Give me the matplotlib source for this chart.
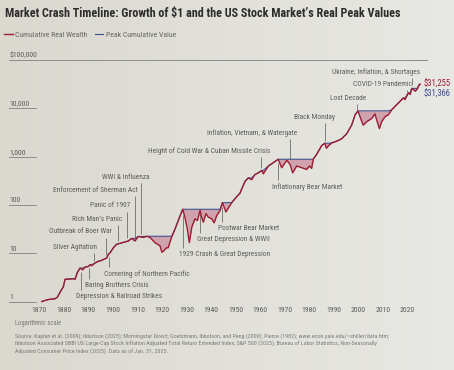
import numpy as np
import matplotlib
matplotlib.use('Agg')
import matplotlib.pyplot as plt
from matplotlib import font_manager
from matplotlib.colors import LinearSegmentedColormap

# Growth of $1 in real terms (log scale)
years = [1871.0, 1873.7, 1876.4, 1877.4, 1878.5, 1879.8, 1880.5, 1883.9, 1884.6, 1885.5,
         1886.6, 1887.7, 1888.6, 1890.0, 1890.7, 1891.4, 1892.7, 1894.0, 1895.4, 1897.5,
         1898.1, 1898.8, 1900.2, 1901.5, 1902.9, 1904.9, 1906.3, 1907.6, 1909.0, 1910.3,
         1912.4, 1913.8, 1915.1, 1917.1, 1919.2, 1919.9, 1920.5, 1921.9, 1922.5, 1923.9,
         1925.3, 1926.6, 1928.4, 1929.3, 1930.3, 1931.1, 1932.1, 1933.4, 1934.4, 1935.5,
         1936.1, 1936.8, 1937.9, 1938.8, 1940.2, 1941.2, 1942.3, 1943.6, 1944.6, 1946.0,
         1948.4, 1950.4, 1951.7, 1953.8, 1955.1, 1956.5, 1957.8, 1959.2, 1960.6, 1961.2,
         1963.3, 1965.3, 1967.3, 1968.7, 1970.8, 1972.1, 1973.2, 1974.8, 1976.9, 1978.9,
         1980.0, 1980.9, 1981.6, 1983.0, 1985.0, 1986.3, 1986.9, 1987.9, 1989.1, 1991.1,
         1993.1, 1995.2, 1997.2, 1998.6, 1999.8, 2000.6, 2001.9, 2003.3, 2005.4, 2006.7,
         2007.4, 2008.5, 2009.4, 2010.8, 2012.1, 2013.5, 2015.5, 2016.9, 2018.2, 2018.9,
         2020.3, 2021.0, 2021.7, 2023.1, 2023.9, 2024.8, 2025.08]
wealth = [1.00, 1.10, 1.14, 1.23, 1.57, 2.01, 2.88, 2.96, 2.88, 3.97,
          4.91, 4.52, 5.16, 5.31, 5.77, 5.50, 6.27, 6.77, 7.11, 7.99,
          9.39, 10.2, 13.0, 15.3, 16.0, 17.1, 17.9, 20.2, 17.9, 22.2,
          21.2, 22.4, 21.2, 16.6, 14.1, 10.5, 11.0, 13.0, 13.0, 21.5,
          31.7, 47.5, 81.1, 56.0, 31.7, 16.6, 34.4, 51.6, 47.5, 77.3,
          56.0, 43.9, 65.8, 56.0, 51.6, 42.5, 60.6, 76.0, 111, 71.5,
          112, 148, 174, 308, 361, 333, 424, 461, 516, 439,
          639, 750, 881, 588, 839, 691, 461, 639, 588, 542,
          639, 569, 890, 1125, 1692, 1890, 1480, 1700, 1920, 2085,
          2334, 2979, 4478, 7291, 8850, 6708, 4478, 5258, 6178, 7654,
          5717, 3795, 5258, 6708, 7291, 9297, 11860, 13925, 16350, 15130,
          20850, 19270, 25830, 22660, 24980, 31366, 31255]

y_ticks = [1, 10, 100, 1000, 10000, 100000]
y_tick_labels = ['1', '10', '100', '1,000', '10,000', '$100,000']
x_ticks = list(range(1870, 2021, 10))

# (label, year the marker points at, side of the curve)
events = [
    ('Depression & Railroad Strikes', 1886.9, 'below'),
    ('Baring Brothers Crisis', 1890.4, 'below'),
    ('Silver Agitation', 1892.3, 'above'),
    ('Outbreak of Boer War', 1897.2, 'above'),
    ('Cornering of Northern Pacific', 1898.5, 'below'),
    ('Rich Man\u2019s Panic', 1902.2, 'above'),
    ('Panic of 1907', 1905.9, 'above'),
    ('Enforcement of Sherman Act', 1909.0, 'above'),
    ('WWI & Influenza', 1911.3, 'above'),
    ('1929 Crash & Great Depression', 1928.7, 'below'),
    ('Great Depression & WWII', 1935.5, 'below'),
    ('Postwar Bear Market', 1944.5, 'below'),
    ('Height of Cold War & Cuban Missile Crisis', 1960.3, 'above'),
    ('Inflationary Bear Market', 1967.1, 'below'),
    ('Inflation, Vietnam, & Watergate', 1972.1, 'above'),
    ('Black Monday', 1986.4, 'above'),
    ('Lost Decade', 1999.3, 'above'),
    ('COVID-19 Pandemic', 2019.9, 'above'),
    ('Ukraine, Inflation, & Shortages', 2021.7, 'above'),
]
# where each label sits: (year of the near edge, value at the text centre)
label_pos = [(1885.0, 1.257), (1888.6, 2.12), (1893.6, 13.3), (1899.5, 27.9),
             (1896.4, 3.71), (1903.6, 50), (1907.2, 96), (1909.9, 203),
             (1915.1, 373), (1927.0, 9.18), (1934.4, 18.8), (1942.9, 32.2),
             (1964.0, 1325), (1964.7, 238), (1975.1, 3036), (1990.4, 6515),
             (2003.3, 16100), (2021.9, 31840), (2025.0, 57270)]

RED = '#9c1c33'
BLUE = '#3f4f8e'
PINK = '#cfa2ad'
GREY = '#5c5c5c'

names = {f.name for f in font_manager.fontManager.ttflist}


def pick(cands, default='Liberation Sans'):
    for c in cands:
        if c in names:
            return c
    return default


font = pick(['Liberation Sans Narrow', 'Roboto Condensed', 'Open Sans Condensed',
             'Noto Sans Condensed'])
plt.rcParams['font.family'] = font

years = np.array(years)
wealth = np.array(wealth)
peak = np.maximum.accumulate(wealth)

fig = plt.figure(figsize=(4.54, 3.70), dpi=100)
fig.patch.set_facecolor('#e3e2dc')

# soft paper tone, a bit darker on the left like the photo
bg = fig.add_axes([0, 0, 1, 1], zorder=-10)
bg.imshow(np.linspace(0, 1, 256)[None, :], aspect='auto', extent=(0, 1, 0, 1),
          cmap=LinearSegmentedColormap.from_list('paper', ['#dad8cf', '#e8e8e4']))
bg.axis('off')

ax = fig.add_axes([0.01542, 0.17568, 0.92731, 0.66216])
ax.set_facecolor('none')
ax.set_yscale('log')
ax.set_xlim(1856.87, 2028.29)
ax.set_ylim(0.8465, 1e5)
for s in ax.spines.values():
    s.set_visible(False)

ax.fill_between(years, wealth, peak, color=PINK, lw=0, zorder=2)
hp, = ax.plot(years, peak, color=BLUE, lw=0.8, zorder=3)
hw, = ax.plot(years, wealth, color=RED, lw=1.0, zorder=4, solid_joinstyle='round')

# y labels sit on short stubs, top one on a full-width rule
ax.set_yticks([])
ax.minorticks_off()
for v, lab in zip(y_ticks, y_tick_labels):
    ax.axhline(v, xmin=0.005, xmax=1.0 if v == y_ticks[-1] else 0.068,
               color='#8c8c8c', lw=0.7, zorder=1)
    ax.annotate(lab, xy=(0.005, v), xycoords=('axes fraction', 'data'),
                xytext=(0.5, 1.2), textcoords='offset points',
                ha='left', va='bottom', fontsize=5.6, color=GREY)

ax.set_xticks(x_ticks)
ax.set_xticklabels([str(x) for x in x_ticks])
ax.tick_params(axis='x', length=0, pad=1.5, labelsize=5.6, labelcolor=GREY)

# event markers
dec_px = 370 * 0.66216 / np.log10(1e5 / 0.8465)
logw = np.log10(wealth)


def shift(v, px):
    return v * 10 ** (px / dec_px)


for (lab, yr, side), (tx, tv) in zip(events, label_pos):
    cv = 10 ** np.interp(yr, years, logw)
    if side == 'above':
        ax.vlines(yr, shift(cv, 3.0), shift(tv, -6.0), color='#6e6e6e', lw=0.6, zorder=1)
        ax.text(tx, tv, lab, ha='right', va='center', fontsize=5.3, color=GREY)
    else:
        ax.vlines(yr, shift(tv, 7.0), shift(cv, -3.0), color='#6e6e6e', lw=0.6, zorder=1)
        ax.text(tx, tv, lab, ha='left', va='center', fontsize=5.3, color=GREY)

ax.annotate('${:,.0f}'.format(wealth[-1]), xy=(years[-1], wealth[-1]),
            xytext=(2.4, 0), textcoords='offset points', ha='left', va='center',
            fontsize=6.2, color=RED, annotation_clip=False)
ax.annotate('${:,.0f}'.format(peak[-1]), xy=(years[-1], wealth[-1]),
            xytext=(2.4, -6.8), textcoords='offset points', ha='left', va='center',
            fontsize=6.2, color=BLUE, annotation_clip=False)

fig.text(5 / 454, 1 - 16.7 / 370,
         'Market Crash Timeline: Growth of $1 and the US Stock Market\u2019s Real Peak Values',
         ha='left', va='baseline', fontsize=8.7, fontweight='bold', color='#2d2d2d')
fig.legend([hw, hp], ['Cumulative Real Wealth', 'Peak Cumulative Value'],
           loc='center left', bbox_to_anchor=(4 / 454, 1 - 34.3 / 370), ncol=2,
           frameon=False, fontsize=5.6, labelcolor='#666666', handlelength=1.1,
           handletextpad=0.35, columnspacing=0.9, borderpad=0, borderaxespad=0)

fig.text(15 / 454, 1 - 323.3 / 370, 'Logarithmic scale', ha='left', va='center',
         fontsize=4.8, color='#7a7a7a')
fig.text(15 / 454, 1 - 333.5 / 370,
         'Source: Kaplan et al. (2009); Ibbotson (2023); Morningstar Direct; Goetzmann, '
         'Ibbotson, and Peng (2000); Pierce (1982); www.econ.yale.edu/~shiller/data.htm;\n'
         'Ibbotson Associated SBBI US Large-Cap Stock Inflation Adjusted Total Return '
         'Extended Index; S&P 500 (2025); Bureau of Labor Statistics, Non-Seasonally\n'
         'Adjusted Consumer Price Index (2025). Data as of Jan. 31, 2025.',
         ha='left', va='top', fontsize=4.3, color='#7a7a7a', linespacing=1.35)

fig.savefig('out.png', dpi=100, facecolor=fig.get_facecolor())
